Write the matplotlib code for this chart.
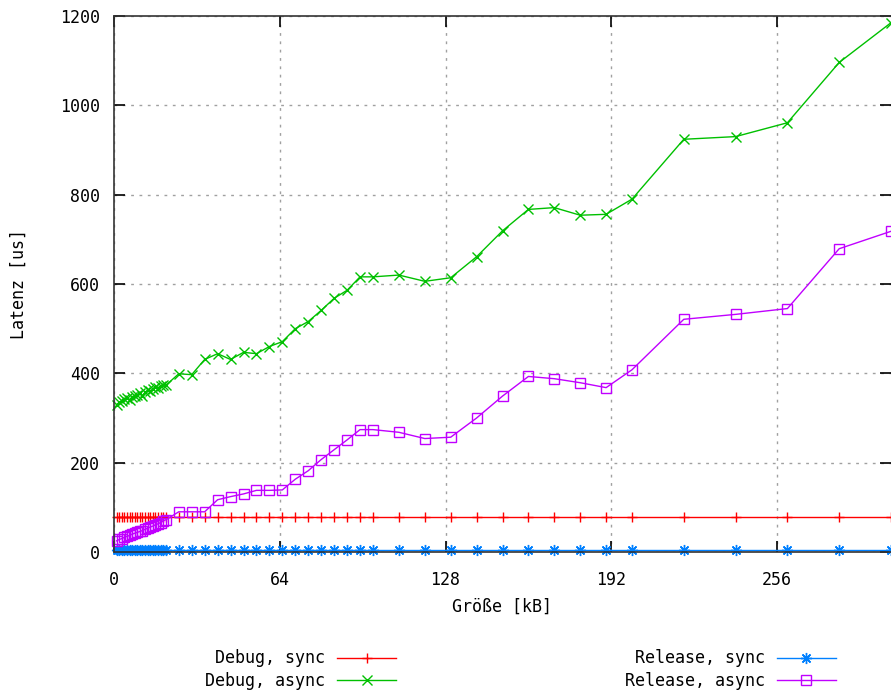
import matplotlib
matplotlib.use("Agg")
import matplotlib.pyplot as plt

# message sizes in kB
groesse = list(range(1, 21)) + list(range(25, 101, 5)) + list(range(110, 201, 10)) + [220, 240, 260, 280, 300]

# latency in us
debug_sync = [78] * len(groesse)
release_sync = [5] * len(groesse)
debug_async = [330, 335, 338, 342, 345, 340, 348, 350, 352, 355,
               350, 358, 362, 360, 365, 370, 368, 372, 375, 373,
               399, 397, 431, 444, 431, 447, 444, 460, 471, 500,
               516, 541, 568, 586, 616, 616,
               620, 606, 614, 661, 719, 767, 771, 754, 756, 790,
               924, 930, 961, 1096, 1185]
release_async = [25, 28, 30, 33, 35, 37, 40, 42, 44, 46,
                 48, 51, 53, 56, 58, 61, 63, 66, 70, 72,
                 90, 90, 90, 117, 124, 130, 138, 138, 139, 163,
                 182, 207, 229, 251, 274, 274,
                 268, 254, 257, 300, 349, 393, 388, 379, 368, 408,
                 521, 532, 545, 679, 718]

xticks = [0, 64, 128, 192, 256]
yticks = [0, 200, 400, 600, 800, 1000, 1200]

plt.rcParams['font.family'] = "DejaVu Sans Mono"
plt.rcParams['font.size'] = 12

fig = plt.figure(figsize=(8.91, 6.91), dpi=100)
ax = fig.add_axes([114 / 891, 1 - 552 / 691, 1 - 114 / 891, (552 - 16) / 691])

series = [
    ("Debug, sync", debug_sync, "#ff0000", "+", 7.5),
    ("Debug, async", debug_async, "#00c000", "x", 7),
    ("Release, sync", release_sync, "#0080ff", (8, 2, 0), 8),
    ("Release, async", release_async, "#c000ff", "s", 7),
]
handles = []
for name, ys, col, mk, ms in series:
    h, = ax.plot(groesse, ys, color=col, lw=1.0, marker=mk, markersize=ms,
                 markeredgewidth=1.0, markerfacecolor='none', label=name,
                 clip_on=False)
    handles.append(h)

ax.set_xlim(0, 300)
ax.set_ylim(0, 1200)
ax.set_xticks(xticks)
ax.set_yticks(yticks)
ax.tick_params(direction='in', length=8, width=1.2, top=True, right=True)
ax.tick_params(axis='x', pad=14)
ax.tick_params(axis='y', pad=10)
ax.grid(True, linestyle=(0, (2, 4)), color='#a0a0a0', lw=1.0)
ax.spines['right'].set_visible(False)
for s in ['left', 'bottom', 'top']:
    ax.spines[s].set_linewidth(1.2)
    ax.spines[s].set_color('#333333')

ax.set_xlabel("Größe [kB]", labelpad=6)
ax.set_ylabel("Latenz [us]")
ax.yaxis.set_label_coords(-0.111, 0.5)

for hs, right in [(handles[:2], 404), (handles[2:], 844)]:
    fig.legend(hs, [h.get_label() for h in hs],
               loc='upper right', bbox_to_anchor=(right / 891, 1 - 641 / 691),
               frameon=False, markerfirst=False, handlelength=3.5,
               labelspacing=0.25, borderpad=0, handletextpad=0.75)

fig.savefig("out.png", dpi=100)
